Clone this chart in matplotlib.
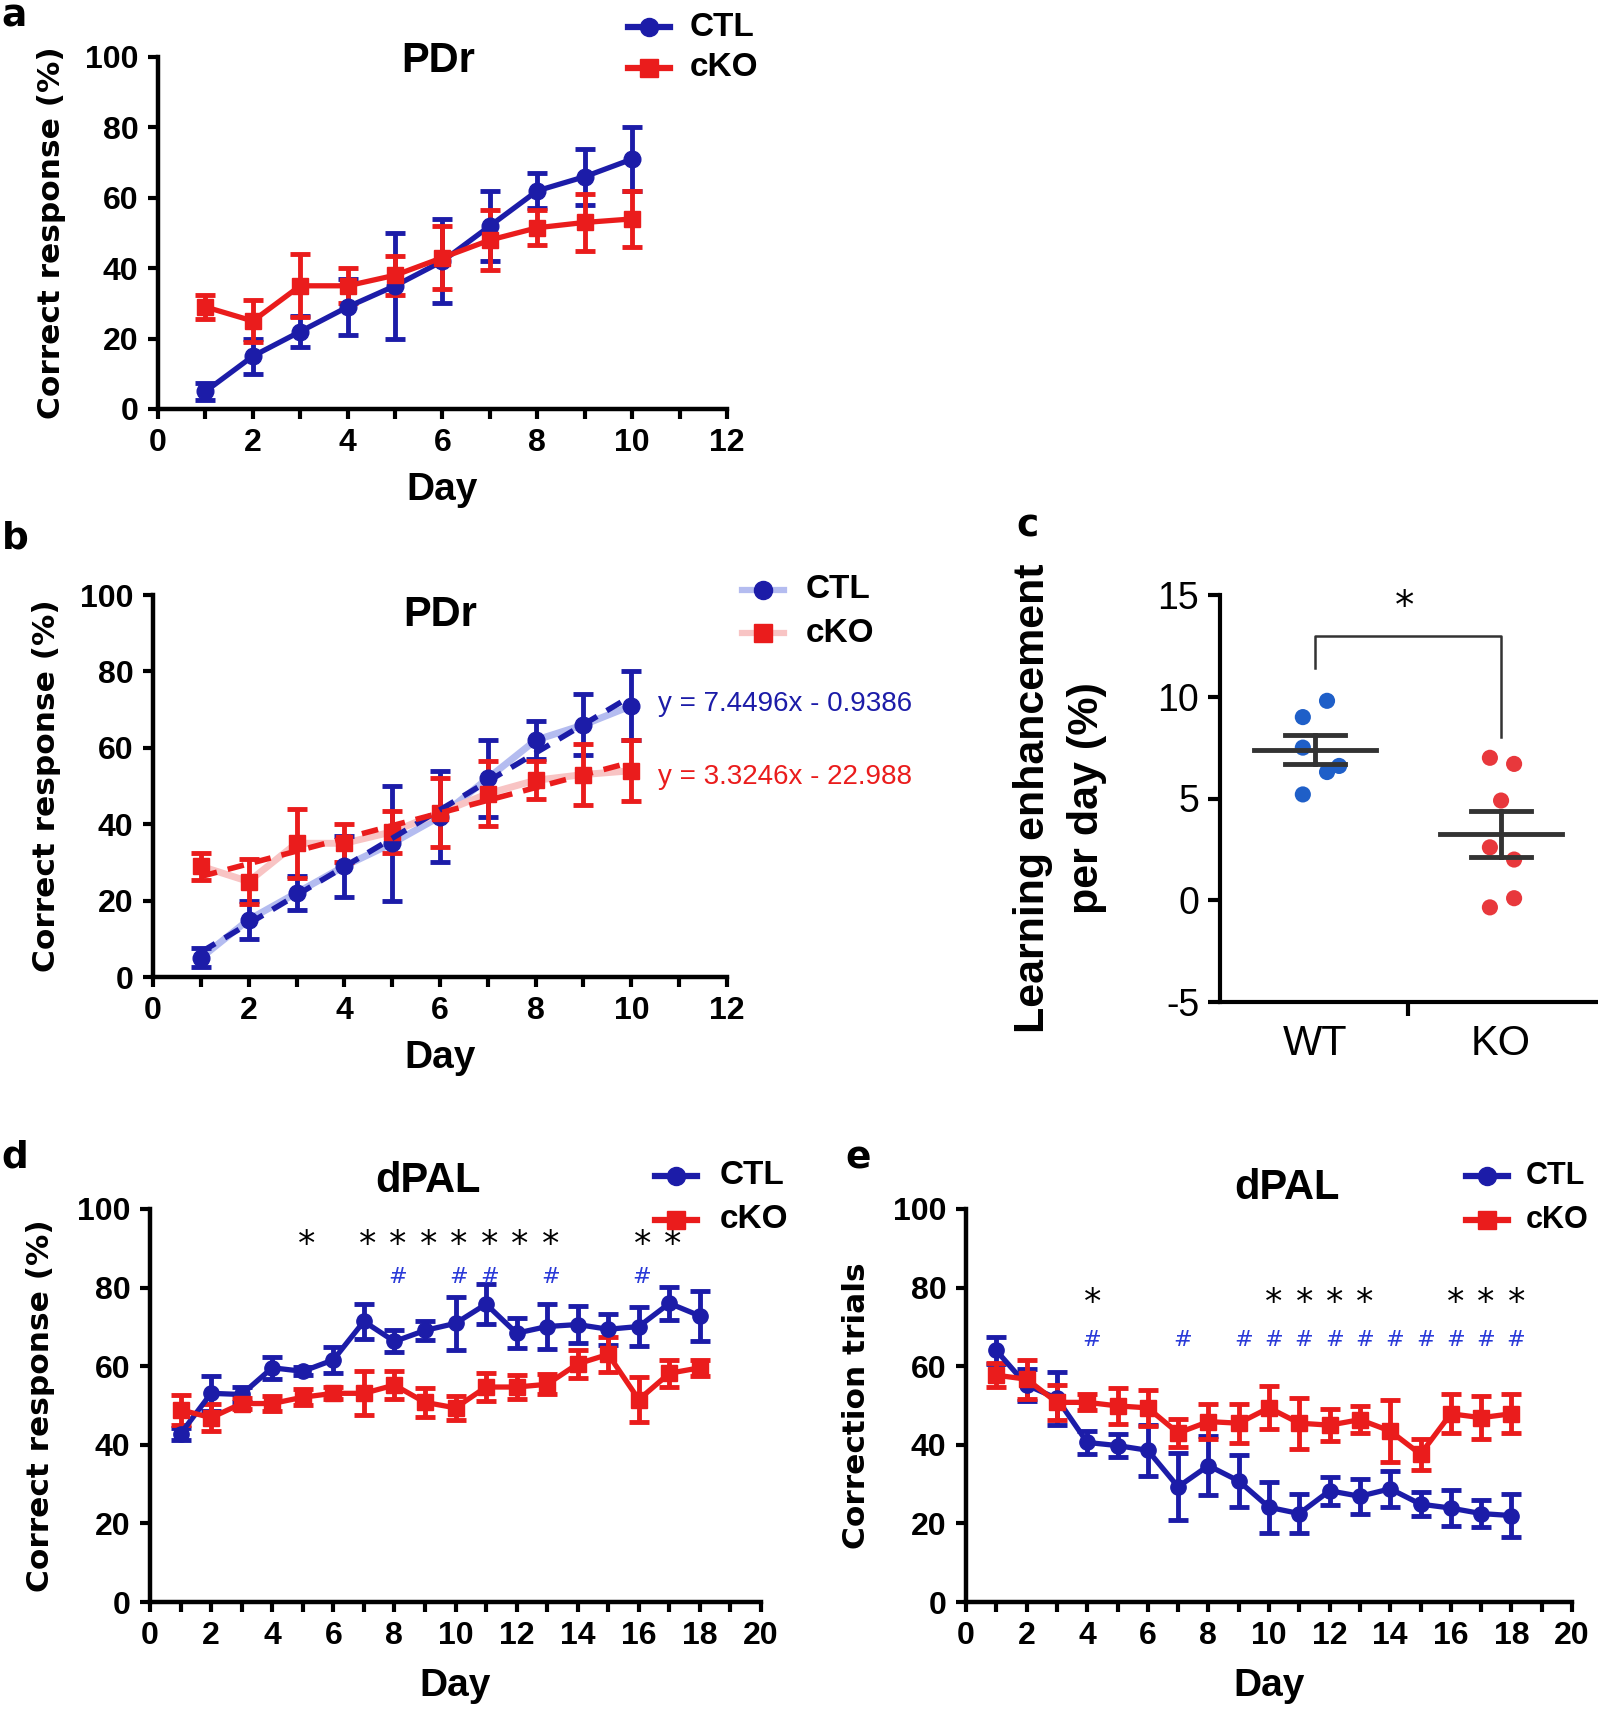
import numpy as np
import matplotlib
matplotlib.use("Agg")
import matplotlib.pyplot as plt
from matplotlib import font_manager
from matplotlib.ticker import MultipleLocator
from matplotlib.lines import Line2D

plt.rcParams['axes.unicode_minus'] = False

# ---- data ----
days10 = np.arange(1, 11)
pdr_ctl = [5, 15, 22, 29, 35, 42, 52, 62, 66, 71]
pdr_ctl_err = [2.5, 5, 4.5, 8, 15, 12, 10, 5, 8, 9]
pdr_cko = [29, 25, 35, 35, 38, 43, 48, 51.5, 53, 54]
pdr_cko_err = [3.5, 6, 9, 5, 5.5, 9, 8.5, 5, 8, 8]

fit_ctl = (7.4496, -0.9386)
fit_cko = (3.3246, 22.988)
eq_ctl = "y = 7.4496x - 0.9386"
eq_cko = "y = 3.3246x - 22.988"

groups = ["WT", "KO"]
wt_vals = [9.8, 9.0, 7.5, 6.6, 6.3, 5.2]
wt_offs = [0.065, -0.065, -0.065, 0.13, 0.065, -0.065]
ko_vals = [7.0, 6.7, 4.9, 2.6, 2.0, 0.1, -0.35]
ko_offs = [-0.06, 0.07, 0.0, -0.06, 0.07, 0.07, -0.06]

days18 = np.arange(1, 19)
pal_ctl = [42.8, 53.1, 52.8, 59.6, 58.7, 61.6, 71.4, 66.3, 69.1, 70.9, 75.8, 68.4, 70.1, 70.6, 69.4, 70.1, 76.0, 72.8]
pal_ctl_err = [1.5, 4.5, 2, 2.8, 1, 3.3, 4.5, 2.8, 2.5, 6.8, 5, 3.8, 5.7, 4.8, 4, 4.9, 4.2, 6.3]
pal_cko = [48.9, 46.9, 50.5, 50.5, 52.1, 53.1, 53.1, 55.2, 50.8, 49.4, 54.7, 54.7, 55.4, 60.6, 63.0, 51.5, 58.2, 59.6]
pal_cko_err = [3.8, 3.5, 1.5, 2, 2, 1.5, 5.6, 3.6, 3.6, 3, 3.6, 3, 2.5, 3.5, 4.5, 5.8, 3.4, 2]
d_star_days = [5, 7, 8, 9, 10, 11, 12, 13, 16, 17]
d_hash_days = [8, 10, 11, 13, 16]

corr_ctl = [64.0, 55.2, 51.8, 40.6, 39.8, 38.6, 29.3, 34.7, 30.8, 24.1, 22.5, 28.3, 26.9, 28.8, 24.9, 23.9, 22.5, 22.0]
corr_ctl_err = [3.5, 4, 6.8, 3, 3, 6.5, 8.5, 7.5, 6.5, 6.5, 5, 3.5, 4.5, 4.5, 3, 4.5, 3.5, 5.5]
corr_cko = [57.7, 56.7, 50.8, 50.8, 49.9, 49.4, 43.0, 45.9, 45.5, 49.4, 45.5, 45.0, 46.4, 43.5, 37.6, 47.9, 46.9, 47.9]
corr_cko_err = [3, 5, 4.5, 2, 4.5, 4.5, 3.5, 4.5, 5, 5.5, 6.5, 4, 3.5, 8, 4, 5, 5.5, 5]
e_star_days = [4, 10, 11, 12, 13, 16, 17, 18]
e_hash_days = [4, 7, 9, 10, 11, 12, 13, 14, 15, 16, 17, 18]

BLUE = "#1c1ca8"
RED = "#ea1c1c"
LBLUE = "#b4bcf0"
LRED = "#f8c4c4"
W, H = 1598, 1712

# narrow bold font if installed, otherwise plain Liberation Sans a bit smaller
installed = {f.name for f in font_manager.fontManager.ttflist}
if "Liberation Sans Narrow" in installed:
    NARROW = ["Liberation Sans Narrow", "DejaVu Sans"]
    TICK_FS, LEG_FS, TITLE_FS, DAY_FS = 27, 27, 33, 32
else:
    NARROW = ["Liberation Sans", "DejaVu Sans"]
    TICK_FS, LEG_FS, TITLE_FS, DAY_FS = 23, 24, 30, 28

fig = plt.figure(figsize=(W / 100, H / 100), dpi=100)


def add_ax(l, r, top, bot):
    return fig.add_axes([l / W, 1 - bot / H, (r - l) / W, (bot - top) / H])


def style_time(ax, xmax, ylabel, xlabelpad, ylabelpad):
    for s in ["top", "right"]:
        ax.spines[s].set_visible(False)
    for s in ["left", "bottom"]:
        ax.spines[s].set_linewidth(3.2)
    ax.set_xlim(0, xmax)
    ax.set_ylim(0, 100)
    ax.xaxis.set_major_locator(MultipleLocator(2))
    ax.xaxis.set_minor_locator(MultipleLocator(1))
    ax.yaxis.set_major_locator(MultipleLocator(20))
    ax.tick_params(axis="both", which="both", direction="out", width=3, length=7, pad=7)
    for lab in ax.get_xticklabels() + ax.get_yticklabels():
        lab.set_fontfamily(NARROW)
        lab.set_fontweight("bold")
        lab.set_fontsize(TICK_FS)
    ax.set_ylabel(ylabel, fontsize=22.5, fontweight="bold", family="DejaVu Sans", labelpad=ylabelpad)
    ax.set_xlabel("Day", fontsize=DAY_FS, fontweight="bold", family=NARROW, labelpad=xlabelpad)


def eb(ax, x, y, e, color, marker, fmt_line=True, ms=12):
    ax.errorbar(x, y, yerr=e, fmt=("-" if fmt_line else "") + marker, color=color,
                lw=3.8, ms=ms, capsize=7, capthick=3.5, elinewidth=3.5, zorder=3)


def legend(x, xt, y, gap, fs, light=False):
    rows = [(BLUE, LBLUE, "o", "CTL"), (RED, LRED, "s", "cKO")]
    for i, (c, lc, m, lab) in enumerate(rows):
        yy = 1 - (y + i * gap) / H
        fig.add_artist(Line2D([x / W, (x + 42) / W], [yy, yy], transform=fig.transFigure,
                              color=lc if light else c, lw=4.5))
        fig.add_artist(Line2D([(x + 21) / W], [yy], transform=fig.transFigure,
                              color=c, marker=m, ms=13, lw=0))
        fig.text(xt / W, yy, lab, fontsize=fs, fontweight="bold", family=NARROW, va="center")


def marks(ax, star_days, star_y, hash_days, hash_y, dx):
    # mathtext keeps the boxes tight around the glyphs
    for dd in star_days:
        ax.text(dd + dx, star_y, r"$*$", ha="center", va="center", fontsize=25, clip_on=False)
    for dd in hash_days:
        ax.text(dd + dx, hash_y, r"$\#$", ha="center", va="center", fontsize=16, color="#2a3ad8")


# ---- panel a ----
ax = add_ax(158, 727, 57, 409)
eb(ax, days10, pdr_ctl, pdr_ctl_err, BLUE, "o")
eb(ax, days10, pdr_cko, pdr_cko_err, RED, "s")
style_time(ax, 12, "Correct response (%)", 10, 14)
ax.text(5.9, 99, "PDr", ha="center", va="center", fontsize=TITLE_FS, fontweight="bold", family=NARROW)
legend(628, 690, 27, 41, LEG_FS)

# ---- panel b ----
ax = add_ax(153, 727, 595, 977)
ax.plot(days10, pdr_ctl, color=LBLUE, lw=5, zorder=1)
ax.plot(days10, pdr_cko, color=LRED, lw=5, zorder=1)
eb(ax, days10, pdr_ctl, pdr_ctl_err, BLUE, "o", fmt_line=False)
eb(ax, days10, pdr_cko, pdr_cko_err, RED, "s", fmt_line=False)
xf = np.array([1, 10])
ax.plot(xf, fit_ctl[0] * xf + fit_ctl[1], "--", color=BLUE, lw=4, dashes=(3, 2), zorder=4)
ax.plot(xf, fit_cko[0] * xf + fit_cko[1], "--", color=RED, lw=4, dashes=(3, 2), zorder=4)
style_time(ax, 12, "Correct response (%)", 10, 14)
ax.text(6.0, 94.8, "PDr", ha="center", va="center", fontsize=TITLE_FS, fontweight="bold", family=NARROW)
ax.text(10.56, 71.5, eq_ctl, color=BLUE, fontsize=20, family=NARROW, va="center", clip_on=False)
ax.text(10.56, 52.4, eq_cko, color=RED, fontsize=20, family=NARROW, va="center", clip_on=False)
legend(742, 806, 590, 43, LEG_FS, light=True)

# ---- panel c ----
ax = add_ax(1220, 1596, 595, 1002)
ax.scatter(0 + np.array(wt_offs), wt_vals, s=135, color="#1f5fc8", zorder=2, edgecolors="none")
ax.scatter(1 + np.array(ko_offs), ko_vals, s=135, color="#e8383c", zorder=2, edgecolors="none")
for xi, vals in [(0, wt_vals), (1, ko_vals)]:
    m = np.mean(vals)
    se = np.std(vals, ddof=1) / np.sqrt(len(vals))
    ax.plot([xi - 0.33, xi + 0.33], [m, m], color="#333333", lw=3.5, zorder=3)
    ax.plot([xi - 0.16, xi + 0.16], [m + se, m + se], color="#333333", lw=3.5, zorder=3)
    ax.plot([xi - 0.16, xi + 0.16], [m - se, m - se], color="#333333", lw=3.5, zorder=3)
    ax.plot([xi, xi], [m - se, m + se], color="#333333", lw=3.5, zorder=3)
ax.plot([0, 0, 1, 1], [11.4, 13.0, 13.0, 8.0], color="#333333", lw=1.8)
ax.text(0.48, 14.4, "*", ha="center", va="center", fontsize=28)
ax.set_xlim(-0.51, 1.51)
ax.set_ylim(-5, 15)
for s in ["top", "right"]:
    ax.spines[s].set_visible(False)
for s in ["left", "bottom"]:
    ax.spines[s].set_linewidth(3)
ax.set_yticks([-5, 0, 5, 10, 15])
ax.tick_params(axis="y", direction="out", width=3, length=9, labelsize=27, pad=6)
ax.set_xticks([0, 1])
ax.set_xticklabels(groups, fontsize=30)
ax.tick_params(axis="x", which="major", length=0, pad=16)
ax.set_xticks([0.5], minor=True)
ax.tick_params(axis="x", which="minor", direction="out", width=3, length=10)
for lab in ax.get_yticklabels() + ax.get_xticklabels():
    lab.set_fontfamily("Liberation Sans")
ax.set_ylabel("Learning enhancement\nper day (%)", fontsize=31, fontweight="bold",
              family="Liberation Sans", labelpad=36, linespacing=1.45)

# ---- panel d ----
ax = add_ax(150, 761, 1209, 1602)
eb(ax, days18, pal_ctl, pal_ctl_err, BLUE, "o", ms=11)
eb(ax, days18, pal_cko, pal_cko_err, RED, "s", ms=11)
style_time(ax, 20, "Correct response (%)", 12, 16)
ax.text(9.1, 107, "dPAL", ha="center", va="center", fontsize=TITLE_FS, fontweight="bold",
        family=NARROW, clip_on=False)
marks(ax, d_star_days, 91.4, d_hash_days, 82.8, 0.1)
legend(655, 720, 1176, 44, LEG_FS)

# ---- panel e ----
ax = add_ax(966, 1572, 1209, 1602)
eb(ax, days18, corr_ctl, corr_ctl_err, BLUE, "o", ms=11)
eb(ax, days18, corr_cko, corr_cko_err, RED, "s", ms=11)
style_time(ax, 20, "Correction trials", 12, 16)
ax.text(10.6, 105.3, "dPAL", ha="center", va="center", fontsize=TITLE_FS, fontweight="bold",
        family=NARROW, clip_on=False)
marks(ax, e_star_days, 76.7, e_hash_days, 66.7, 0.15)
legend(1466, 1526, 1176, 44, LEG_FS - 2)

# panel letters (mathtext bold gives a tight box at the page edge)
for lab, x, y in [("a", 1, 26), ("b", 1, 549), ("c", 1016, 535), ("d", 1, 1168), ("e", 845, 1168)]:
    fig.text(x / W, 1 - y / H, r"$\mathbf{%s}$" % lab, fontsize=27, ha="left", va="baseline")

fig.savefig("out.png", dpi=100)
